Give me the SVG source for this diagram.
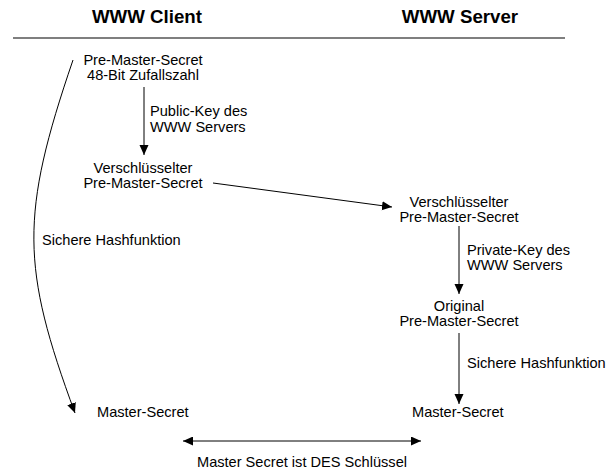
<svg xmlns="http://www.w3.org/2000/svg" width="609" height="475" viewBox="0 0 609 475">
  <style>
    text { font-family: "Liberation Sans", Arial, sans-serif; font-size: 14.6px; fill: #000; }
    .title { font-size: 18.7px; font-weight: bold; }
    .c { text-anchor: middle; }
    .ln { stroke: #000; stroke-width: 1; fill: none; }
  </style>
  <defs>
    <marker id="ah" markerUnits="userSpaceOnUse" markerWidth="12" markerHeight="10" refX="10" refY="4.5" orient="auto">
      <path d="M0,0 L10,4.5 L0,9 Z" fill="#000"/>
    </marker>
    <marker id="ahs" markerUnits="userSpaceOnUse" markerWidth="12" markerHeight="10" refX="0" refY="4.5" orient="auto">
      <path d="M10,0 L0,4.5 L10,9 Z" fill="#000"/>
    </marker>
  </defs>

  <g id="header">
    <text class="title c" x="147" y="23">WWW Client</text>
    <text class="title c" x="460" y="23">WWW Server</text>
    <line x1="13" y1="38" x2="565" y2="38" stroke="#000" stroke-width="1.2"/>
  </g>

  <g id="client-pms">
    <text class="c" x="143" y="65">Pre-Master-Secret</text>
    <text class="c" x="143" y="80">48-Bit Zufallszahl</text>
  </g>
  <g id="client-enc">
    <text class="c" x="143" y="173">Verschlüsselter</text>
    <text class="c" x="143" y="188">Pre-Master-Secret</text>
  </g>
  <g id="server-enc">
    <text class="c" x="459" y="207">Verschlüsselter</text>
    <text class="c" x="459" y="222">Pre-Master-Secret</text>
  </g>
  <g id="server-orig">
    <text class="c" x="459" y="311">Original</text>
    <text class="c" x="459" y="326">Pre-Master-Secret</text>
  </g>
  <g id="client-master">
    <text x="97" y="417">Master-Secret</text>
  </g>
  <g id="server-master">
    <text x="412" y="417">Master-Secret</text>
  </g>

  <g id="connectors">
    <line class="ln" x1="144" y1="87" x2="144" y2="155" marker-end="url(#ah)"/>
    <line class="ln" x1="213" y1="183" x2="392" y2="207" marker-end="url(#ah)"/>
    <line class="ln" x1="459" y1="226" x2="459" y2="294" marker-end="url(#ah)"/>
    <line class="ln" x1="459" y1="333" x2="459" y2="404" marker-end="url(#ah)"/>
    <path class="ln" d="M73,60 C20,215 21,267 75,413" marker-end="url(#ah)"/>
    <line class="ln" x1="183" y1="441" x2="421" y2="441" marker-start="url(#ahs)" marker-end="url(#ah)"/>
  </g>

  <g id="labels">
    <text x="150" y="116">Public-Key des</text>
    <text x="150" y="132">WWW Servers</text>
    <text x="467" y="255">Private-Key des</text>
    <text x="467" y="270">WWW Servers</text>
    <text x="467" y="368">Sichere Hashfunktion</text>
    <text x="42" y="245">Sichere Hashfunktion</text>
    <text class="c" x="302" y="467">Master Secret ist DES Schlüssel</text>
  </g>
</svg>
